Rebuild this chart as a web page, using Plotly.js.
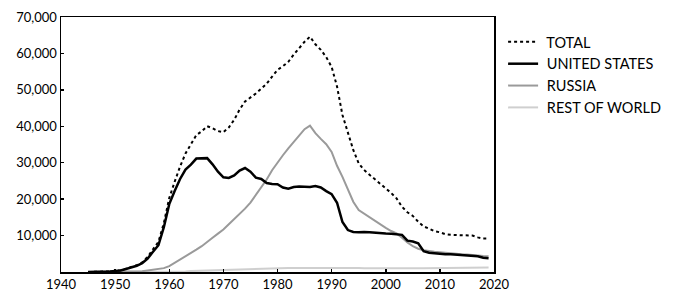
<!DOCTYPE html>
<html>
<head>
<meta charset="utf-8">
<script src="https://cdn.plot.ly/plotly-3.0.1.min.js"></script>
<style>html,body{margin:0;padding:0;background:#fff}#chart{width:678px;height:300px}</style>
</head>
<body>
<div id="chart"></div>
<script>
const years = [1945,1946,1947,1948,1949,1950,1951,1952,1953,1954,1955,1956,1957,1958,1959,1960,1961,1962,1963,1964,1965,1966,1967,1968,1969,1970,1971,1972,1973,1974,1975,1976,1977,1978,1979,1980,1981,1982,1983,1984,1985,1986,1987,1988,1989,1990,1991,1992,1993,1994,1995,1996,1997,1998,1999,2000,2001,2002,2003,2004,2005,2006,2007,2008,2009,2010,2011,2012,2013,2014,2015,2016,2017,2018,2019];

const total = [2,9,13,50,171,304,463,891,1290,1858,2632,4138,6233,8254,13403,20293,24760,28962,32521,34934,37568,38614,40024,39460,38690,38351,39672,41794,44600,46802,47800,49000,50300,51700,53600,55500,56500,57700,59700,61500,63200,64600,62500,61000,59000,56300,50900,43100,38000,33500,29800,28000,26700,25500,24300,22900,21700,20200,17900,16400,15400,13800,12500,11900,11200,10900,10400,10200,10150,10150,10250,10000,9500,9200,9200];

const unitedStates = [2,9,13,50,170,299,438,841,1169,1703,2422,3692,5543,7345,12298,18638,22229,25540,28133,29463,31139,31175,31255,29561,27552,26008,25830,26516,27835,28537,27519,25914,25542,24418,24138,24104,23208,22886,23305,23459,23368,23317,23575,23205,22217,21392,19008,13708,11511,10979,10904,11011,10903,10732,10685,10577,10526,10457,10200,8600,8360,7900,5709,5273,5113,5066,4897,4881,4804,4717,4600,4500,4300,3900,3800];

const russia = [0,0,0,0,1,5,25,50,120,150,200,426,660,869,1060,1605,2471,3322,4238,5221,6129,7089,8339,9399,10538,11643,13092,14478,15915,17385,19055,21205,23044,25393,27935,30062,32049,33952,35804,37431,39197,40159,38107,36538,35078,32980,29154,26100,22500,19300,17000,16000,15100,14000,13000,12100,11250,10600,9400,8100,7100,6400,5950,5700,5550,5450,5250,5100,4950,4850,4800,4600,4500,4400,4350];

const restOfWorld = [0,0,0,0,0,0,0,0,1,5,10,20,30,40,45,50,60,100,150,250,300,350,430,500,600,700,750,800,850,880,900,920,950,1000,1050,1100,1100,1120,1130,1140,1150,1160,1170,1180,1200,1220,1200,1150,1120,1100,1080,1050,1030,1020,1010,1000,1010,1020,1030,1040,1050,1060,1060,1070,1070,1080,1090,1100,1110,1120,1150,1170,1190,1220,1260];

const seriesNames = ["TOTAL","UNITED STATES","RUSSIA","REST OF WORLD"];
const yTicks = [10000,20000,30000,40000,50000,60000,70000];
const xTicks = [1940,1950,1960,1970,1980,1990,2000,2010,2020];

const FONT = "Lato, 'Open Sans', sans-serif";
const NB = "\u00a0";

const traces = [
  {x: years, y: restOfWorld, name: NB + seriesNames[3], legendgroup: "d", legendrank: 4, mode: "lines", line: {color: "#cfcfcf", width: 2}},
  {x: years, y: russia, name: NB + seriesNames[2], legendgroup: "c", legendrank: 3, mode: "lines", line: {color: "#9a9a9a", width: 2}},
  {x: years, y: unitedStates, name: NB + seriesNames[1], legendgroup: "b", legendrank: 2, mode: "lines", line: {color: "#000000", width: 2.5}},
  {x: years, y: total, name: NB + seriesNames[0], legendgroup: "a", legendrank: 1, mode: "lines", line: {color: "#000000", width: 2, dash: "dot"}}
];

const layout = {
  width: 678, height: 300,
  margin: {l: 61, r: 179, t: 17, b: 28, pad: 0},
  paper_bgcolor: "#fff", plot_bgcolor: "#fff",
  font: {family: FONT, size: 13, color: "#000"},
  showlegend: true,
  legend: {x: 1.021, xanchor: "left", y: 0.965, yanchor: "top", traceorder: "grouped",
    font: {family: FONT, size: 14.5, color: "#000"}, bgcolor: "rgba(0,0,0,0)", tracegroupgap: 0, itemwidth: 30},
  xaxis: {range: [1940, 2020], tickvals: xTicks, ticktext: xTicks.map(String),
    showgrid: false, zeroline: false, showline: true, linecolor: "#000", linewidth: 1.5, mirror: true,
    ticks: "inside", ticklen: 3, tickwidth: 1.5, tickcolor: "#000", tickfont: {family: FONT, size: 13}},
  yaxis: {range: [0, 70000], tickvals: yTicks, ticktext: yTicks.map(v => v.toLocaleString("en-US")),
    showgrid: false, zeroline: false, showline: true, linecolor: "#000", linewidth: 1.5, mirror: true,
    ticks: "inside", ticklen: 3, tickwidth: 1.5, tickcolor: "#000", tickfont: {family: FONT, size: 13}}
};

Plotly.newPlot("chart", traces, layout, {displayModeBar: false, staticPlot: true});
</script>
</body>
</html>
